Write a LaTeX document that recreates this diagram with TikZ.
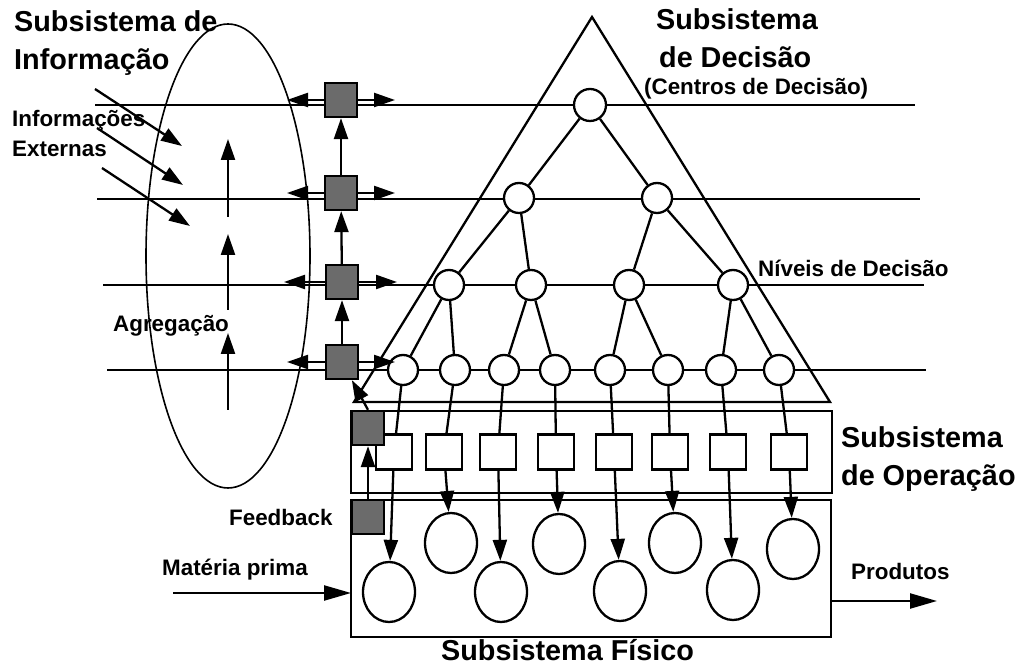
\documentclass[tikz,border=0pt]{standalone}
\usepackage{fontspec}
\setmainfont{Liberation Sans}
\usetikzlibrary{arrows.meta,shapes.geometric}
\definecolor{infogray}{gray}{0.42}

\begin{document}
\begin{tikzpicture}[x=0.5pt,y=-0.5pt,line width=1.15pt,
  lbl/.style={font=\bfseries\fontsize{11.2}{13}\selectfont,anchor=base west,inner sep=0},
  ttl/.style={font=\bfseries\fontsize{14.4}{16}\selectfont,anchor=base west,inner sep=0},
  dec/.style={circle,draw,fill=white,minimum size=15pt,inner sep=0},
  opbox/.style={rectangle,draw,fill=white,minimum width=18pt,minimum height=17.5pt,inner sep=0},
  infobox/.style={rectangle,draw,fill=infogray,minimum width=16pt,minimum height=17pt,inner sep=0},
  phys/.style={ellipse,draw,fill=white,minimum width=26pt,minimum height=30pt,inner sep=0},
  tip/.style={-{Triangle[length=10.5pt,width=7pt]}},
  bigtip/.style={-{Triangle[length=13.5pt,width=7.5pt]}},
]
\useasboundingbox (0,0) rectangle (1017,667);

% information subsystem
\draw[line width=0.8pt] (228,256) ellipse [x radius=41pt,y radius=116pt];

% decision levels
\draw (95,105) -- (915,105);
\draw (97,199) -- (920,199);
\draw (103,285) -- (924,285);
\draw (107,370) -- (926,370);

% decision pyramid
\draw (592,17) -- (830,402) -- (354,402) -- cycle;

% operation and physical subsystems
\draw (351,411) rectangle (832,493);
\draw (351,500) rectangle (831,637);

% decision centres
\node[dec,minimum size=16pt] (d1) at (590,105) {};
\node[dec] (d21) at (519,198) {};
\node[dec] (d22) at (657,198) {};
\node[dec] (d31) at (449,285) {};
\node[dec] (d32) at (531,285) {};
\node[dec] (d33) at (629,285) {};
\node[dec] (d34) at (733,285) {};
\foreach \i/\x in {1/403,2/455,3/504,4/555,5/610,6/668,7/721,8/779}
  \node[dec] (d4\i) at (\x,370) {};

\draw (d1) -- (d21); \draw (d1) -- (d22);
\draw (d21) -- (d31); \draw (d21) -- (d32);
\draw (d22) -- (d33); \draw (d22) -- (d34);
\draw (d31) -- (d41); \draw (d31) -- (d42);
\draw (d32) -- (d43); \draw (d32) -- (d44);
\draw (d33) -- (d45); \draw (d33) -- (d46);
\draw (d34) -- (d47); \draw (d34) -- (d48);

% operation units
\foreach \i/\x in {1/394,2/444,3/498,4/556,5/614,6/670,7/728,8/789}
  \node[opbox] (o\i) at (\x,452) {};

% physical units (alternating rows)
\node[phys] (p1) at (389,592) {};
\node[phys] (p2) at (451,543) {};
\node[phys] (p3) at (501,592) {};
\node[phys] (p4) at (559,544) {};
\node[phys] (p5) at (620,591) {};
\node[phys] (p6) at (675,543) {};
\node[phys] (p7) at (733,590) {};
\node[phys] (p8) at (793,549) {};

\foreach \i in {1,...,8}{
  \draw (d4\i) -- (o\i);
  \draw[tip] (o\i) -- (p\i);
}

% information boxes with their links
\node[infobox] (i1) at (341,100) {};
\node[infobox] (i2) at (341,193) {};
\node[infobox] (i3) at (342,282) {};
\node[infobox] (i4) at (342,362) {};
\coordinate (i1l) at (287,100); \coordinate (i1r) at (395,100);
\coordinate (i2l) at (287,193); \coordinate (i2r) at (395,193);
\coordinate (i3l) at (284,282); \coordinate (i3r) at (397,282);
\coordinate (i4l) at (287,362); \coordinate (i4r) at (395,362);
\foreach \i in {1,...,4}{
  \draw[tip] (i\i.west) -- (i\i l);
  \draw[tip] (i\i.east) -- (i\i r);
}
\draw[tip] (i4) -- (i3);
\draw[tip] (i3) -- (i2);
\draw[tip] (i2) -- (i1);

% feedback
\node[infobox] (fa) at (368,428) {};
\node[infobox] (fb) at (368,517) {};
\draw[tip] (fb) -- (fa);
\draw[tip] (fa.north) -- (i4);

% aggregation arrows
\coordinate (a1s) at (228,217); \coordinate (a1e) at (228,139);
\coordinate (a2s) at (228,310); \coordinate (a2e) at (228,234);
\coordinate (a3s) at (228,410); \coordinate (a3e) at (228,333);
\draw[tip] (a1s) -- (a1e);
\draw[tip] (a2s) -- (a2e);
\draw[tip] (a3s) -- (a3e);

% external information
\coordinate (e1s) at (95,89);  \coordinate (e1e) at (182,146);
\coordinate (e2s) at (97,128); \coordinate (e2e) at (183,185);
\coordinate (e3s) at (102,168);\coordinate (e3e) at (190,226);
\draw[tip] (e1s) -- (e1e);
\draw[tip] (e2s) -- (e2e);
\draw[tip] (e3s) -- (e3e);

% raw material in, products out
\coordinate (mpin) at (173,593);
\coordinate (prout) at (937,601);
\draw[bigtip] (mpin) -- (351,593);
\draw[bigtip] (831,601) -- (prout);

% labels
\node[ttl] (tsi1) at (13,32) {Subsistema de};
\node[ttl] (tsi2) at (13,70) {Informação};
\node[ttl] (tsd1) at (655,30) {Subsistema};
\node[ttl] (tsd2) at (658,68) {de Decisão};
\node[lbl] (tcd) at (643,95) {(Centros de Decisão)};
\node[lbl] (tnd) at (757,277) {Níveis de Decisão};
\node[lbl] (tie1) at (11,127) {Informações};
\node[lbl] (tie2) at (11,157) {Externas};
\node[lbl] (tag) at (112,332) {Agregação};
\node[lbl] (tfb) at (228,526) {Feedback};
\node[lbl] (tmp) at (161,575) {Matéria prima};
\node[lbl] (tpr) at (850,580) {Produtos};
\node[ttl] (tso1) at (840,448) {Subsistema};
\node[ttl] (tso2) at (840,486) {de Operação};
\node[ttl] (tsf) at (440,661) {Subsistema Físico};
\end{tikzpicture}
\end{document}
